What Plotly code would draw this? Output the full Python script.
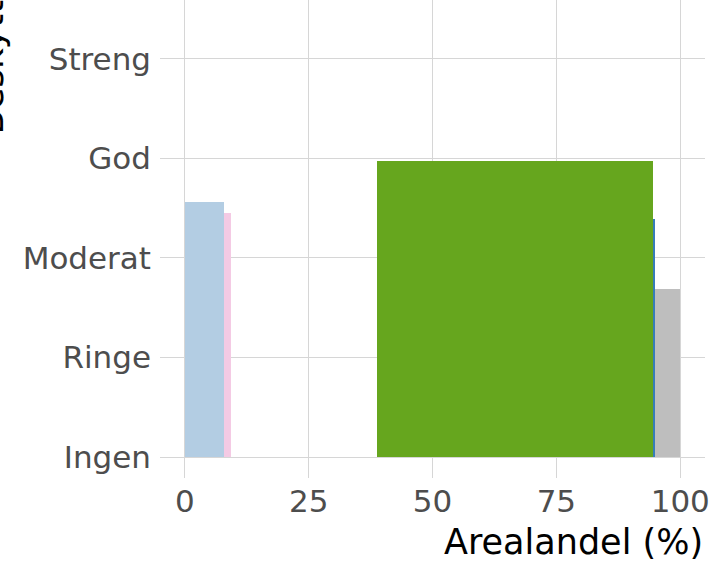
import plotly.graph_objects as go

# Data
levels = ["Ingen", "Ringe", "Moderat", "God", "Streng"]
level_vals = [0, 1, 2, 3, 4]
x_ticks = [0, 25, 50, 75, 100]

seg_start = [0.0, 8.0, 38.8, 94.5, 95.0]
seg_end = [8.0, 9.3, 94.5, 95.0, 100.0]
seg_height = [2.56, 2.45, 2.97, 2.39, 1.69]
seg_colors = ["#b3cde3", "#f4cae4", "#66a61e", "#377eb8", "#bebebe"]

W, H = 711, 562
ML, MR, MT, MB = 160, 6, 0, 84
PW = W - ML - MR
PH = H - MT - MB

fig = go.Figure()
for s, e, h, c in zip(seg_start, seg_end, seg_height, seg_colors):
    fig.add_trace(go.Bar(
        x=[(s + e) / 2], y=[h], width=[e - s], base=[0],
        marker=dict(color=c, line=dict(width=0)),
        showlegend=False, hoverinfo="skip",
    ))

grid = "#d6d6d6"
fig.update_layout(
    width=W, height=H,
    margin=dict(l=ML, r=MR, t=MT, b=MB),
    plot_bgcolor="white", paper_bgcolor="white",
    barmode="overlay", bargap=0,
    font=dict(family="DejaVu Sans", color="#4d4d4d"),
    xaxis=dict(
        range=[-5, 105], tickvals=x_ticks, ticktext=[str(v) for v in x_ticks],
        showgrid=True, gridcolor=grid, gridwidth=1.3, zeroline=False,
        showline=False, ticks="", tickfont=dict(size=31, color="#4d4d4d"),
        ticklabelstandoff=2,
    ),
    yaxis=dict(
        range=[-0.21, 4.59], tickvals=level_vals, ticktext=levels,
        showgrid=True, gridcolor=grid, gridwidth=1.3, zeroline=False,
        showline=False, ticks="", tickfont=dict(size=31, color="#4d4d4d"),
        ticklabelstandoff=8,
    ),
    annotations=[
        dict(text="Arealandel (%)", xref="paper", yref="paper",
             x=1.0, y=(PH - 542) / PH,
             xanchor="right", yanchor="middle", showarrow=False,
             font=dict(size=35, color="black", family="DejaVu Sans")),
        dict(text="Beskyttelsesnivå", xref="paper", yref="paper",
             x=(-10 - ML) / PW, y=(PH - 137) / PH,
             xanchor="center", yanchor="bottom", textangle=-90, showarrow=False,
             font=dict(size=36, color="black", family="DejaVu Sans")),
    ],
)

fig.write_html(
    "out.html",
    config={"displayModeBar": False},
    post_script="document.body.style.margin='0';document.body.style.overflow='hidden';",
)
